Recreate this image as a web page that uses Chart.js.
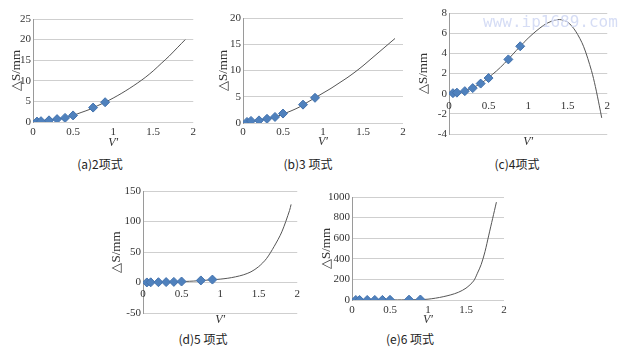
<!DOCTYPE html>
<html>
<head>
<meta charset="utf-8">
<script src="https://cdn.jsdelivr.net/npm/chart.js@4.4.0/dist/chart.umd.min.js"></script>
<style>
  body { margin: 0; background: #fff; width: 633px; height: 352px; position: relative; overflow: hidden; }
  canvas { position: absolute; }
  .cap { position: absolute; font-family: "Noto Sans CJK SC", sans-serif; font-size: 12px; color: #222; transform: translate(-50%, -50%); white-space: nowrap; }
  .wm { position: absolute; left: 483px; top: 12px; font-family: "DejaVu Sans Mono", monospace; font-size: 16px; color: #d6ddf5; white-space: nowrap; }
</style>
</head>
<body>
<canvas id="ca"></canvas>
<canvas id="cb"></canvas>
<canvas id="cc"></canvas>
<canvas id="cd"></canvas>
<canvas id="ce"></canvas>
<div class="wm">www.ip1689.com</div>
<div class="cap" style="left:100px;top:163px">(a)2项式</div>
<div class="cap" style="left:308px;top:163px">(b)3 项式</div>
<div class="cap" style="left:517px;top:163px">(c)4项式</div>
<div class="cap" style="left:203px;top:338px">(d)5 项式</div>
<div class="cap" style="left:410px;top:338px">(e)6 项式</div>
<script>
// measured points (diamonds)
const markerX = [0.05, 0.1, 0.2, 0.3, 0.4, 0.5, 0.75, 0.9];
const markA = [0.1, 0.2, 0.4, 0.7, 1.0, 1.6, 3.5, 4.8];
const markB = [0.2, 0.4, 0.5, 0.8, 1.15, 1.8, 3.5, 4.8];
const markC = [0.05, 0.1, 0.25, 0.55, 1.0, 1.55, 3.4, 4.7];
const markD = [0.1, 0.3, 0.5, 0.7, 1.0, 1.6, 3.4, 4.8];
const markE = [0.1, 0.3, 0.5, 0.7, 1.0, 1.6, 3.4, 4.8];

// fitted curves
const curveX = [0.05, 0.1, 0.2, 0.3, 0.4, 0.5, 0.6, 0.7, 0.8, 0.9, 1.0, 1.1, 1.2, 1.3, 1.4, 1.5, 1.6, 1.7, 1.8, 1.9];
const curveA = [0.1, 0.3, 0.5, 0.7, 1.0, 1.6, 2.3, 3.0, 3.9, 4.8, 5.8, 6.9, 8.1, 9.4, 10.8, 12.4, 14.2, 16.0, 18.0, 20.0];
const curveB = [0.2, 0.3, 0.5, 0.8, 1.1, 1.7, 2.3, 3.0, 3.9, 4.8, 5.7, 6.6, 7.6, 8.6, 9.7, 10.9, 12.2, 13.5, 14.8, 16.1];
const curveXC = [0.05, 0.1, 0.2, 0.3, 0.4, 0.5, 0.6, 0.7, 0.8, 0.9, 1.0, 1.1, 1.2, 1.3, 1.4, 1.5, 1.6, 1.7, 1.8, 1.85, 1.9, 1.93];
const curveC = [0.05, 0.1, 0.3, 0.6, 1.0, 1.6, 2.25, 3.0, 3.85, 4.7, 5.5, 6.2, 6.8, 7.2, 7.35, 7.1, 6.2, 4.7, 2.3, 0.7, -1.2, -2.4];
const curveXD = [0.05, 0.1, 0.2, 0.3, 0.4, 0.5, 0.6, 0.7, 0.8, 0.9, 1.0, 1.1, 1.2, 1.3, 1.4, 1.5, 1.6, 1.7, 1.8, 1.9, 1.92];
const curveD = [0.1, 0.3, 0.5, 0.7, 1.0, 1.5, 2.0, 2.7, 3.6, 4.5, 5.5, 7.0, 9.3, 12.5, 17.5, 26, 39, 59, 83, 118, 128];
const curveXE = [0.05, 0.1, 0.2, 0.3, 0.4, 0.5, 0.6, 0.7, 0.8, 0.9, 1.0, 1.1, 1.2, 1.3, 1.4, 1.5, 1.6, 1.65, 1.7, 1.75, 1.8, 1.85, 1.9];
const curveE = [0, 0, 0, 0, 0, 0.5, 1, 1.5, 2.5, 4, 8, 18, 32, 50, 75, 115, 185, 260, 345, 470, 630, 790, 950];

// tick labels
const xTicks = [0, 0.5, 1, 1.5, 2];
const yTicksA = [0, 5, 10, 15, 20, 25];
const yTicksB = [0, 5, 10, 15, 20];
const yTicksC = [-4, -2, 0, 2, 4, 6, 8];
const yTicksD = [-50, 0, 50, 100, 150];
const yTicksE = [0, 200, 400, 600, 800, 1000];

const serif = "'Liberation Serif', 'Times New Roman', serif";
const textColor = '#333';

function toPoints(xs, ys) {
    return xs.map((x, i) => ({ x: x, y: ys[i] }));
}

function drawPanel(p) {
    const cv = document.getElementById(p.id);
    cv.width = p.right - p.left;
    cv.height = p.bottom - p.top;
    cv.style.left = p.left + 'px';
    cv.style.top = p.top + 'px';
    const yW = p.plot.l - p.left;
    const xH = p.bottom - p.plot.b;
    const tickFont = { family: serif, size: 11 };

    const scales = {
        x: {
            type: 'linear', min: 0, max: 2,
            afterFit: s => { s.height = xH; },
            afterBuildTicks: s => { s.ticks = xTicks.map(v => ({ value: v })); },
            grid: { display: false, drawTicks: false },
            border: { display: false },
            ticks: { display: !p.zeroAxis, padding: p.tickPad, font: tickFont, color: textColor, callback: v => String(v) },
            title: { display: true, text: 'V′', color: textColor, font: { family: serif, size: 12, style: 'italic' }, padding: { top: 0, bottom: 2 } }
        },
        y: {
            type: 'linear', min: p.yTicks[0], max: p.yTicks[p.yTicks.length - 1],
            afterFit: s => { s.width = yW; },
            afterBuildTicks: s => { s.ticks = p.yTicks.map(v => ({ value: v })); },
            grid: { color: '#cfcfcf', drawTicks: false },
            border: { color: '#9a9a9a' },
            ticks: { padding: 2, font: tickFont, color: textColor, callback: v => String(v) },
            title: { display: true, text: '△S/mm', color: textColor, font: { family: serif, size: 13 }, padding: { top: 0, bottom: 0 } }
        }
    };
    if (p.zeroAxis) {
        scales.x0 = {
            type: 'linear', position: { y: 0 }, min: 0, max: 2,
            afterBuildTicks: s => { s.ticks = xTicks.map(v => ({ value: v })); },
            grid: { display: false, drawTicks: false },
            border: { display: false },
            ticks: { padding: p.tickPad, font: tickFont, color: textColor, callback: v => String(v) }
        };
    }

    new Chart(cv.getContext('2d'), {
        type: 'line',
        data: {
            datasets: [{
                data: toPoints(markerX, p.marks),
                showLine: false,
                pointStyle: 'rectRot',
                pointRadius: 4.5,
                backgroundColor: '#4f81bd',
                borderColor: '#4372ad',
                borderWidth: 1
            }, {
                data: toPoints(p.cx, p.cy),
                borderColor: '#555',
                borderWidth: 1,
                pointRadius: 0,
                tension: 0.3,
                fill: false
            }]
        },
        options: {
            responsive: false,
            animation: false,
            layout: { padding: { left: 0, top: p.plot.t - p.top, right: p.right - p.plot.r, bottom: 0 } },
            scales: scales,
            plugins: { legend: { display: false }, tooltip: { enabled: false } }
        }
    });
}

drawPanel({ id: 'ca', left: 9, top: 4, right: 200, bottom: 152, plot: { l: 33, r: 194, t: 19, b: 122 }, tickPad: 4, yTicks: yTicksA, marks: markA, cx: curveX, cy: curveA });
drawPanel({ id: 'cb', left: 216, top: 4, right: 410, bottom: 151, plot: { l: 243, r: 403, t: 18, b: 123 }, tickPad: 3, yTicks: yTicksB, marks: markB, cx: curveX, cy: curveB });
drawPanel({ id: 'cc', left: 416, top: 2, right: 616, bottom: 151, plot: { l: 449, r: 609, t: 13, b: 134 }, tickPad: 6, zeroAxis: true, yTicks: yTicksC, marks: markC, cx: curveXC, cy: curveC });
drawPanel({ id: 'cd', left: 109, top: 178, right: 305, bottom: 329, plot: { l: 143, r: 298, t: 191, b: 313 }, tickPad: 5, zeroAxis: true, yTicks: yTicksD, marks: markD, cx: curveXD, cy: curveD });
drawPanel({ id: 'ce', left: 319, top: 182, right: 512, bottom: 329, plot: { l: 352, r: 504, t: 197, b: 300 }, tickPad: 4, yTicks: yTicksE, marks: markE, cx: curveXE, cy: curveE });
</script>
</body>
</html>
